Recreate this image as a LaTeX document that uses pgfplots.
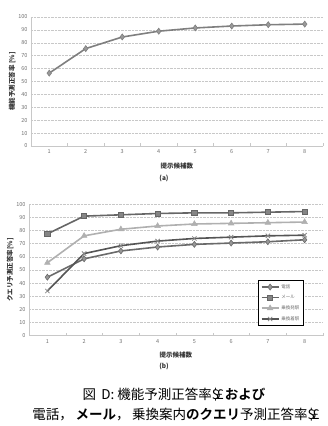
\documentclass[border=0pt]{standalone}
\usepackage{fontspec}
\setmainfont{Noto Sans CJK JP}
\newfontfamily\jpbold{Noto Sans CJK JP}[BoldFont={* Bold}]
\usepackage{pgfplots}
\pgfplotsset{compat=1.18}
\definecolor{tickgray}{HTML}{707070}
\definecolor{gridgray}{HTML}{C8C8C8}
\definecolor{lineA}{HTML}{7F7F7F}
\definecolor{telC}{HTML}{6A6A6A}
\definecolor{mailC}{HTML}{666666}
\definecolor{depC}{HTML}{B0B0B0}
\definecolor{arrC}{HTML}{555555}
\pgfplotsset{
  chartstyle/.style={
    scale only axis,
    xmin=0.5, xmax=8.5, ymin=0, ymax=100,
    xtick={1,...,8}, ytick={0,10,...,100},
    minor xtick={0.5,1.5,...,8.5},
    axis line style={draw=gridgray},
    axis x line*=bottom, axis y line*=left,
    ymajorgrids, grid style={draw=gridgray, densely dotted, line width=0.5pt},
    major tick length=0pt,
    minor tick length=3pt,
    minor tick style={draw=gridgray},
    tick label style={font=\fontsize{5.5}{6.5}\selectfont, text=tickgray},
    /pgf/number format/assume math mode=true,
    label style={font=\fontsize{6.5}{8}\selectfont\bfseries, text=black!80},
    xlabel={提示候補数},
    xlabel style={yshift=-2pt},
    ylabel style={yshift=-4pt},
    every axis plot/.append style={line width=1.6pt},
  }
}
\begin{document}
\begin{tikzpicture}
\path[use as bounding box] (0pt,0pt) rectangle (328pt,426pt);
% (a)
\begin{axis}[chartstyle, at={(31pt,280pt)}, anchor=south west, width=292pt, height=129pt,
  ylabel={機能予測正答率 [\%]}]
\addplot[color=lineA, mark=diamond*, mark size=3pt, mark options={fill=lineA!80, line width=0.6pt}]
 coordinates {(1,56.5)(2,75.5)(3,84.5)(4,89)(5,91.5)(6,93)(7,94)(8,94.5)};
\end{axis}
\node[font=\fontsize{6.5}{8}\selectfont\bfseries, text=black!80] at (164pt,248pt) {(a)};
% (b)
\begin{axis}[chartstyle, at={(29pt,90.3pt)}, anchor=south west, width=294pt, height=131.4pt,
  ylabel={クエリ予測正答率[\%]},
  legend style={at={(rel axis cs:0.78,0.424)}, anchor=north west, draw=black, line width=0.9pt,
    font=\fontsize{4.5}{5.5}\selectfont, text=tickgray, row sep=1.5pt, inner sep=2pt},
  legend cell align=left]
\addplot[color=telC, mark=diamond*, mark size=3pt, mark options={fill=telC!70, line width=0.6pt}]
 coordinates {(1,44.5)(2,58.5)(3,64.5)(4,67.5)(5,69.5)(6,70.5)(7,71.5)(8,73)};
\addlegendentry{電話}
\addplot[color=mailC, mark=square*, mark size=2.6pt, mark options={fill=mailC!80, line width=0.6pt}]
 coordinates {(1,77.5)(2,91)(3,92)(4,93)(5,93.5)(6,93.5)(7,94)(8,94.5)};
\addlegendentry{メール}
\addplot[color=depC, mark=triangle*, mark size=3.2pt, mark options={fill=depC, line width=0.6pt}]
 coordinates {(1,55.5)(2,76)(3,81)(4,83.5)(5,85)(6,85.5)(7,86)(8,86.5)};
\addlegendentry{乗換発駅}
\addplot[color=arrC, mark=x, mark size=3pt, mark options={line width=0.8pt, draw=arrC!70}]
 coordinates {(1,34)(2,62.5)(3,68.5)(4,72)(5,74)(6,75)(7,76)(8,76.5)};
\addlegendentry{乗換着駅}
\end{axis}
\node[font=\fontsize{6.5}{8}\selectfont\bfseries, text=black!80] at (164pt,60pt) {(b)};
% caption
\node[font=\fontsize{13.5}{15}\selectfont] at (174pt,31pt) {図\hspace{0.4em}D: 機能予測正答率\$\kern-3pt\textit{£}\kern1pt{\jpbold\bfseries および}};
\node[font=\fontsize{13.5}{15}\selectfont] at (176pt,11pt) {電話，\hspace{0.2em}{\jpbold\bfseries メール}，\hspace{0.2em}乗換案内{\jpbold\bfseries のクエリ}予測正答率\$\kern-3pt\textit{£}};
\end{tikzpicture}
\end{document}
